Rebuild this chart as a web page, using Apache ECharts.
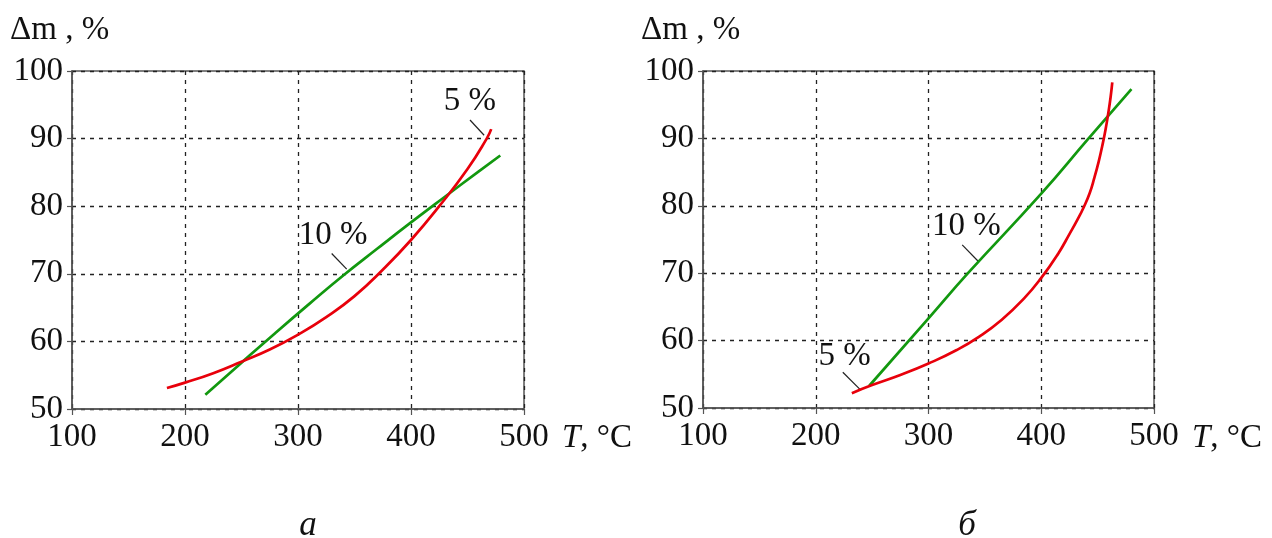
<!DOCTYPE html>
<html><head><meta charset="utf-8">
<script src="https://cdn.jsdelivr.net/npm/echarts@6/dist/echarts.min.js"></script>
<style>html,body{margin:0;padding:0;background:#fff}#c{width:1272px;height:538px}</style>
</head><body><div id="c"></div>
<script>
// Axis ranges
const xMin = 100, xMax = 500, xStep = 100;
const yMin = 50, yMax = 100, yStep = 10;

// Panel a
const leftRed5 = [[184,53.1],[200,53.9],[225,55.3],[250,57.0],[275,58.8],[300,61.0],[325,63.6],[350,66.7],[375,70.6],[400,75.0],[425,80.0],[450,85.5],[467,90.0],[471,91.4]];
const leftGreen10 = [[218,52.1],[250,56.85],[280,61.25],[310,65.55],[340,69.75],[370,73.7],[400,77.6],[430,81.4],[460,85.15],[479,87.5]];
const leftNotes = [['10 %',331,75.7],['5 %',452,95.5]];
const leftLeaders = [[[329.8,73.0],[343.1,70.7]],[[452.2,92.75],[464.7,90.5]]];

// Panel б
const rightRed5 = [[232,52.2],[250,53.4],[275,54.9],[300,56.6],[325,58.6],[345,60.6],[365,63.1],[385,66.3],[400,69.3],[415,72.9],[425,75.8],[432,77.9],[438,79.9],[443,81.9],[447,84.1],[451,86.6],[454,88.8],[457,91.3],[459.5,93.8],[461.5,96.1],[463,98.3]];
const rightGreen10 = [[247.5,53.3],[300,63.3],[335,70.0],[400,81.8],[442,90.0],[480,97.3]];
const rightNotes = [['10 %',333.5,77.0],['5 %',225.7,57.7]];
const rightLeaders = [[[329.9,74.2],[344.5,71.7]],[[224,55.3],[239.7,52.7]]];

const yTitle = 'Δm , %';
const panelNames = ['а', 'б'];

const FONT = "'Liberation Serif', 'Times New Roman', serif";
const FS = 33;
const RED = '#e8000b', GREEN = '#12980f';

function xAxis(gi) {
  return {
    type: 'value', gridIndex: gi, min: xMin, max: xMax, interval: xStep,
    axisLine: { show: true, lineStyle: { color: '#555', width: 1.5 } },
    axisTick: { show: true, inside: false, length: 6, lineStyle: { color: '#555', width: 1.2 } },
    axisLabel: { fontFamily: FONT, fontSize: FS, color: '#111', margin: 12 },
    splitLine: { show: true, lineStyle: { color: '#222', type: [4, 5], width: 1.3 } }
  };
}
function yAxis(gi) {
  return {
    type: 'value', gridIndex: gi, min: yMin, max: yMax, interval: yStep,
    axisLine: { show: true, lineStyle: { color: '#555', width: 1.5 } },
    axisTick: { show: true, inside: false, length: 5, lineStyle: { color: '#555', width: 1.2 } },
    axisLabel: { fontFamily: FONT, fontSize: FS, color: '#111', margin: 9 },
    splitLine: { show: true, lineStyle: { color: '#222', type: [4, 5], width: 1.3 } }
  };
}
function curve(data, color, gi) {
  return { type: 'line', xAxisIndex: gi, yAxisIndex: gi, data: data, smooth: 0.5,
    showSymbol: false, symbol: 'none', lineStyle: { color: color, width: 2.7 }, z: 3, silent: true };
}
function leaders(list, gi) {
  return list.map(seg => ({ type: 'line', xAxisIndex: gi, yAxisIndex: gi, data: seg, symbol: 'none',
    lineStyle: { color: '#222', width: 1.2 }, z: 2, silent: true }));
}
function notes(list, gi) {
  return { type: 'scatter', xAxisIndex: gi, yAxisIndex: gi, symbolSize: 0, silent: true, z: 4,
    itemStyle: { opacity: 1 },
    data: list.map(n => [n[1], n[2], n[0]]),
    label: { show: true, position: [0, 0], align: 'center', verticalAlign: 'middle', opacity: 1,
      formatter: p => p.value[2], fontFamily: FONT, fontSize: FS, color: '#111' } };
}

const grids = [
  { left: 72, top: 71, width: 452, height: 338 },
  { left: 703, top: 71, width: 451, height: 337 }
];
const panelLabelX = [308, 967];

const graphics = [];
grids.forEach((g, i) => {
  graphics.push({ type: 'text', left: g.left - 62, top: 14, silent: true,
    style: { text: yTitle, font: FS + 'px ' + FONT, fill: '#111' } });
  graphics.push({ type: 'text', silent: true,
    style: { x: g.left + g.width + 38, y: 438, verticalAlign: 'middle', text: '{i|T}{n|, °C}',
      rich: { i: { fontFamily: FONT, fontSize: FS, fontStyle: 'italic', fill: '#111' },
              n: { fontFamily: FONT, fontSize: FS, fill: '#111' } } } });
  graphics.push({ type: 'text', silent: true,
    style: { x: panelLabelX[i], y: 526, align: 'center', verticalAlign: 'middle',
      text: panelNames[i], fontFamily: FONT, fontSize: 35, fontStyle: 'italic', fill: '#111' } });
});

const option = {
  animation: false,
  backgroundColor: '#fff',
  grid: grids.map(g => Object.assign({ show: true, borderColor: '#555', borderWidth: 1.5, backgroundColor: 'transparent' }, g)),
  xAxis: [xAxis(0), xAxis(1)],
  yAxis: [yAxis(0), yAxis(1)],
  series: [
    curve(leftGreen10, GREEN, 0), curve(leftRed5, RED, 0),
    ...leaders(leftLeaders, 0), notes(leftNotes, 0),
    curve(rightGreen10, GREEN, 1), curve(rightRed5, RED, 1),
    ...leaders(rightLeaders, 1), notes(rightNotes, 1)
  ],
  graphic: graphics
};
const chart = echarts.init(document.getElementById('c'), null, { renderer: 'canvas' });
chart.setOption(option);
</script></body></html>
